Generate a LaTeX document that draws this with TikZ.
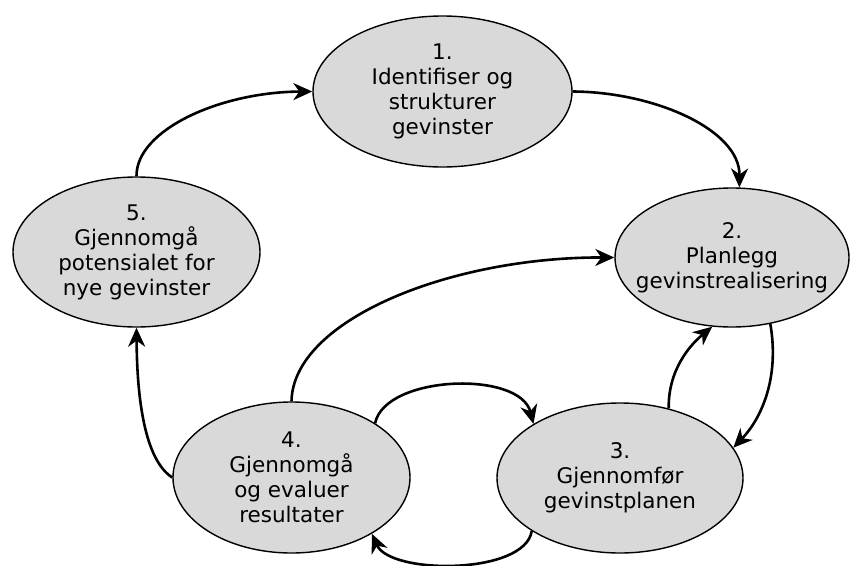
\documentclass[tikz,border=0pt]{standalone}
\usepackage{fontspec}
\setmainfont{DejaVu Sans}
\usetikzlibrary{shapes.geometric,arrows.meta}
\definecolor{ellfill}{HTML}{D9D9D9}
\tikzset{
  stage/.style={ellipse, draw=black, line width=1.4pt, fill=ellfill, inner sep=-40pt,
    align=center, font=\fontsize{21.5}{25}\selectfont},
  flow/.style={line width=2.6pt, -{Stealth[length=19pt,width=17pt,inset=6pt]}}
}
\begin{document}
\begin{tikzpicture}[x=1pt,y=-1pt]
\useasboundingbox (0,0) rectangle (851,565);
\node[stage, minimum width=259pt, minimum height=151pt] (e1) at (442.5,91.5) {1.\\Identifiser og\\strukturer\\gevinster};
\node[stage, minimum width=234pt, minimum height=139pt] (e2) at (732,257.5) {2.\\Planlegg\\gevinstrealisering};
\node[stage, minimum width=246pt, minimum height=150pt] (e3) at (620,478) {3.\\Gjennomfør\\gevinstplanen};
\node[stage, minimum width=237pt, minimum height=151pt] (e4) at (291.5,477.5) {4.\\Gjennomgå\\og evaluer\\resultater};
\node[stage, minimum width=247pt, minimum height=150pt] (e5) at (136.5,252) {5.\\Gjennomgå\\potensialet for\\nye gevinster};
\draw[flow] (e5.90) .. controls (136,130) and (220,92) .. (e1.180);
\draw[flow] (e1.0) .. controls (655,92) and (740,130) .. (e2.84);
\draw[flow] (e4.90) .. controls (293,320) and (450,257) .. (e2.180);
\draw[flow] (e4.33) .. controls (385,375) and (520,370) .. (e3.148);
\draw[flow] (e3.211) .. controls (525,575) and (390,575) .. (e4.325);
\draw[flow] (e3.55) .. controls (668,370) and (690,345) .. (e2.254);
\draw[flow] (e2.300) .. controls (780,380) and (760,420) .. (e3.15);
\draw[flow] (e4.180) .. controls (145,460) and (137,400) .. (e5.270);
\end{tikzpicture}
\end{document}
